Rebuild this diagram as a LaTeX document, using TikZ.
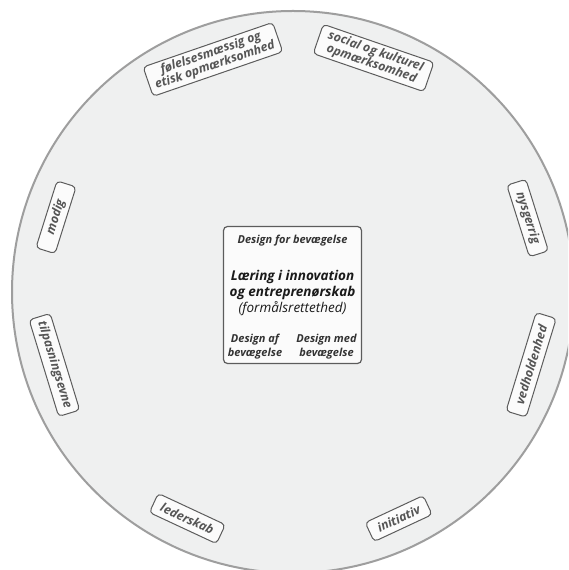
\documentclass[tikz,border=0pt]{standalone}
\usepackage{fontspec}
\setmainfont{Open Sans}
\usetikzlibrary{calc}
\definecolor{ringfill}{HTML}{EFF0F0}
\definecolor{ringline}{HTML}{9E9E9E}
\definecolor{boxline}{HTML}{5C5C5C}
\definecolor{boxfill}{HTML}{FBFBFB}
\definecolor{lbltext}{HTML}{555555}
\definecolor{coretext}{HTML}{1A1A1A}
\definecolor{subtext}{HTML}{333333}
\begin{document}
\begin{tikzpicture}[x=1pt,y=1pt,
  lbl/.style={draw=boxline, fill=boxfill, text=lbltext, rounded corners=4pt,
    line width=1pt, align=center, inner sep=0pt,
    font=\fontsize{12.3}{12.8}\selectfont\bfseries\itshape},
  subhead/.style={anchor=base, text=subtext, inner sep=0pt,
    font=\fontsize{11}{12}\selectfont\bfseries\itshape},
  mainhead/.style={anchor=base, text=coretext, inner sep=0pt,
    font=\fontsize{13.5}{15}\selectfont\bfseries\itshape},
  aim/.style={anchor=base, text=coretext, inner sep=0pt,
    font=\fontsize{13.5}{14}\selectfont\itshape}]
\useasboundingbox (0,0) rectangle (568,570);
\fill[white] (0,0) rectangle (568,570);
\coordinate (C) at (293,278);

% the ring, cut by the page edge on the right and bottom
\begin{scope}
  \clip (0,0) rectangle (568,570);
  \node[circle, draw=ringline, fill=ringfill, line width=2pt,
        minimum size=562pt, inner sep=0pt] (ring) at (C) {};
\end{scope}

% qualities placed around the ring
\node[lbl, rotate=19, minimum width=137pt, minimum height=31pt]
  (fol) at ($(C)+(109:246)$) {følelsesmæssig og\\etisk opmærksomhed};
\node[lbl, rotate=-19, minimum width=117pt, minimum height=31pt]
  (soc) at ($(C)+(71:247.5)$) {social og kulturel\\opmærksomhed};
\node[lbl, rotate=-72.5, minimum width=75pt, minimum height=20pt]
  (nys) at ($(C)+(17.5:246)$) {nysgerrig};
\node[lbl, rotate=73, minimum width=103pt, minimum height=21pt]
  (ved) at ($(C)+(-17:249)$) {vedholdenhed};
\node[lbl, rotate=25, minimum width=64pt, minimum height=21pt]
  (ini) at ($(C)+(-65:250)$) {initiativ};
\node[lbl, rotate=-25, minimum width=74pt, minimum height=21pt]
  (led) at ($(C)+(-115:250)$) {lederskab};
\node[lbl, rotate=-73, minimum width=101pt, minimum height=22pt]
  (til) at ($(C)+(-163:249.5)$) {tilpasningsevne};
\node[lbl, rotate=72.5, minimum width=70pt, minimum height=20pt]
  (mod) at ($(C)+(162.5:248.5)$) {modig};

% central box
\node[draw=boxline, fill=boxfill, rounded corners=4pt, line width=1.2pt,
      minimum width=138pt, minimum height=137pt, inner sep=0pt]
  (core) at (292.5,275) {};
\node[subhead] (dfor) at (292.5,326) {Design for bevægelse};
\node[mainhead] (m1) at (292.5,289.3) {Læring i innovation};
\node[mainhead] (m2) at (292.5,273) {og entreprenørskab};
\node[aim] (m3) at (292.5,257.3) {(formålsrettethed)};
\node[subhead] (daf1) at (255,227) {Design af};
\node[subhead] (daf2) at (255,213.3) {bevægelse};
\node[subhead] (dmed1) at (326.5,227) {Design med};
\node[subhead] (dmed2) at (326.5,213.3) {bevægelse};
\end{tikzpicture}
\end{document}
